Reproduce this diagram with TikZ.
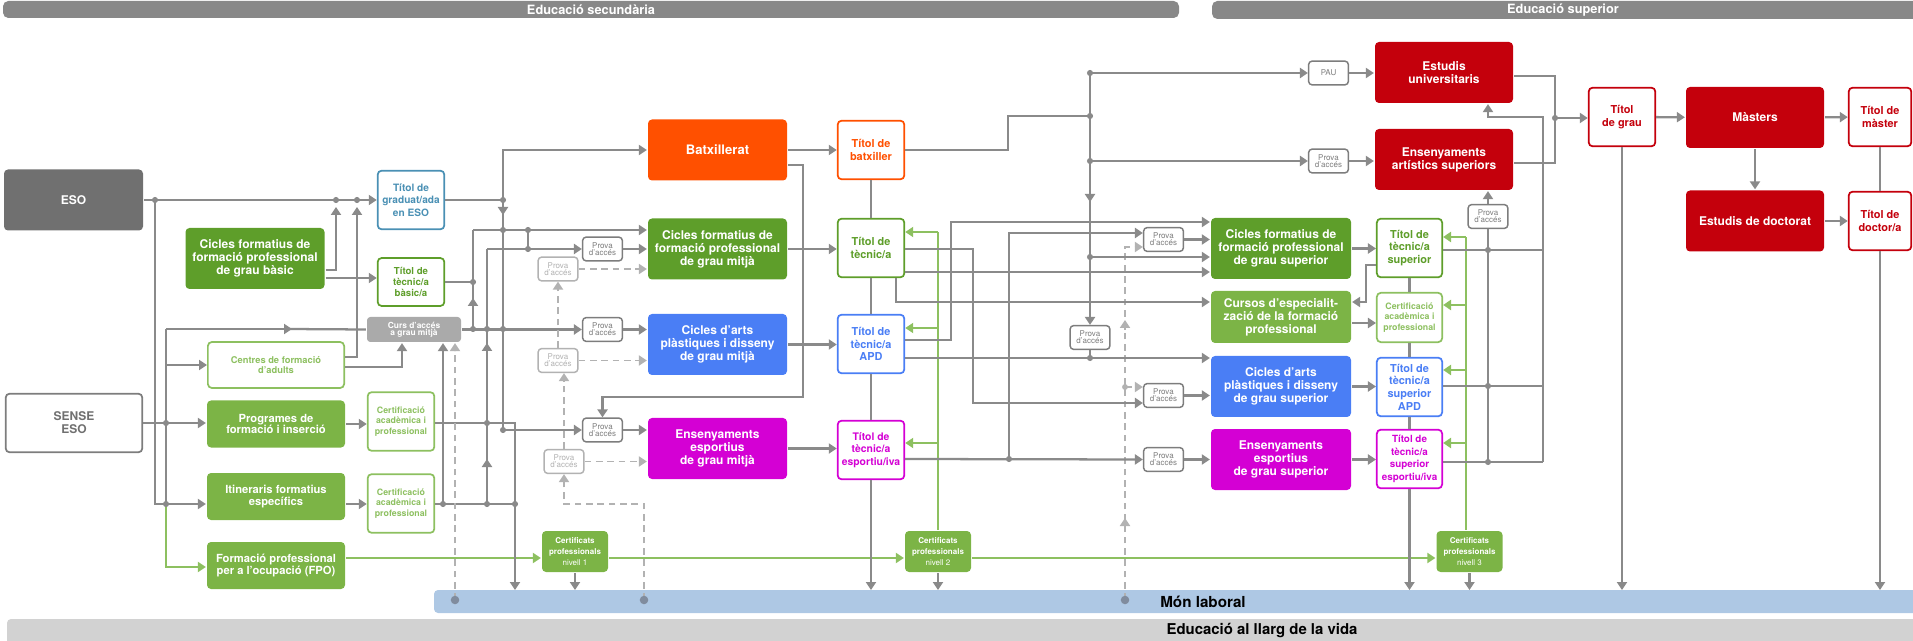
\documentclass[tikz,border=0pt]{standalone}
\usepackage{fontspec}
\setmainfont{TeX Gyre Heros}
\usetikzlibrary{arrows.meta}

\definecolor{linegray}{RGB}{138,138,138}
\definecolor{bargray}{RGB}{136,136,136}
\definecolor{esogray}{RGB}{112,112,112}
\definecolor{fpgreen}{RGB}{94,158,42}
\definecolor{ltgreen}{RGB}{124,180,70}
\definecolor{certgreen}{RGB}{141,192,96}
\definecolor{apdblue}{RGB}{74,126,245}
\definecolor{espmag}{RGB}{212,0,212}
\definecolor{batorange}{RGB}{255,80,0}
\definecolor{unired}{RGB}{196,0,12}
\definecolor{esoblue}{RGB}{74,144,180}
\definecolor{laboral}{RGB}{174,200,228}
\definecolor{vidagray}{RGB}{210,210,210}
\definecolor{cursgray}{RGB}{170,170,170}
\definecolor{provagray}{RGB}{125,125,125}
\definecolor{provalight}{RGB}{178,178,178}
\definecolor{dotgray}{RGB}{128,140,158}

\tikzset{every picture/.style={line width=1.7pt}}
\tikzset{
  >={Triangle[length=6pt,width=7.5pt]},
  flow/.style={draw=linegray,->},
  link/.style={draw=linegray},
  gflow/.style={draw=certgreen,->},
  glink/.style={draw=certgreen},
  dflow/.style={draw=provalight,line width=1.4pt,dash pattern=on 5pt off 3.5pt,->},
  bigbox/.style={rounded corners=3pt,minimum width=104.25pt,minimum height=45.75pt,inner sep=0pt,align=center,text=white,font=\bfseries\fontsize{9}{9.8}\selectfont},
  lowbox/.style={bigbox,minimum width=103.5pt,minimum height=35.25pt,font=\bfseries\fontsize{8.4}{8.4}\selectfont},
  titbox/.style={draw,fill=white,rounded corners=3pt,line width=1.3pt,minimum width=50pt,minimum height=44pt,inner sep=0pt,align=center,font=\bfseries\fontsize{8.2}{9.5}\selectfont},
  capbox/.style={titbox,draw=certgreen,text=certgreen,font=\bfseries\fontsize{6.6}{7.7}\selectfont},
  cursbox/.style={fill=cursgray,text=white,rounded corners=2.5pt,minimum width=70.5pt,minimum height=18.75pt,inner sep=0pt,align=center,font=\bfseries\fontsize{6.3}{5.6}\selectfont},
  provabox/.style={draw=provagray,text=provagray,fill=white,rounded corners=2.5pt,line width=1.1pt,minimum width=29.75pt,minimum height=17.75pt,inner sep=0pt,align=center,font=\fontsize{6}{5.2}\selectfont},
  provalt/.style={provabox,draw=provalight,text=provalight},
  certbox/.style={fill=ltgreen,text=white,rounded corners=3pt,minimum width=49.5pt,minimum height=30.75pt,inner sep=0pt,align=center,font=\bfseries\fontsize{6}{8}\selectfont},
  bartext/.style={inner sep=0pt,font=\bfseries\fontsize{9.6}{10}\selectfont}
}

\begin{document}
\begin{tikzpicture}[x=0.75pt,y=0.75pt,yscale=-1,xscale=1]
\useasboundingbox (0,0) rectangle (1913,641);

%Shapes: bands
\fill[bargray,rounded corners=4pt] (3,1) rectangle (1179,18);
\fill[bargray,rounded corners=4pt] (1212,1) rectangle (1930,19);
\fill[laboral,rounded corners=3pt] (434,590) rectangle (1930,613);
\fill[vidagray,rounded corners=3pt] (7,619) rectangle (1930,650);
\coordinate (lab1) at (455,600);
\coordinate (lab2) at (644,600);
\coordinate (lab3) at (1125,600);

% Text Node
\node[bartext,text=white] (sectxt) at (591,9.5) {Educació secundària};
\node[bartext,text=white] (suptxt) at (1563,10) {Educació superior};
\node[bartext,font=\bfseries\fontsize{11.4}{12}\selectfont] (labtxt) at (1203,602) {Món laboral};
\node[bartext,font=\bfseries\fontsize{11.2}{12}\selectfont] (vidatxt) at (1262,631) {Educació al llarg de la vida};

% Text Node: left column
\node[bigbox,fill=esogray] (eso) at (73.5,200) {ESO};
\node[bigbox,draw=provagray,line width=1.3pt,fill=white,text=esogray,minimum width=102.5pt,minimum height=44pt] (sense) at (74,423) {SENSE\\ESO};
\node[bigbox,fill=fpgreen] (fpb) at (255,258.5) {Cicles formatius de\\formació professional\\de grau bàsic};
\node[lowbox,draw=certgreen,line width=1.3pt,fill=white,text=certgreen,minimum width=102.2pt,minimum height=34.5pt,font=\bfseries\fontsize{7}{8}\selectfont] (adults) at (276,365) {Centres de formació\\d’adults};
\node[lowbox,fill=ltgreen] (prog) at (276,424) {Programes de\\formació i inserció};
\node[lowbox,fill=ltgreen] (itin) at (276,496.5) {Itineraris formatius\\específics};
\node[lowbox,fill=ltgreen] (fpo) at (276,565.5) {Formació professional\\per a l’ocupació (FPO)};

% Text Node: títols ESO
\node[titbox,draw=esoblue,text=esoblue,font=\bfseries\fontsize{7.6}{9.2}\selectfont] (graduat) at (411,200) {Títol de\\graduat/ada\\en ESO};
\node[titbox,draw=fpgreen,text=fpgreen,minimum height=36pt,font=\bfseries\fontsize{7.2}{8.2}\selectfont] (tecbas) at (411,282) {Títol de\\tècnic/a\\bàsic/a};
\node[cursbox] (curs) at (414,329.5) {Curs d’accés\\a grau mitjà};
\node[capbox] (cap1) at (401,421.5) {Certificació\\acadèmica i\\professional};
\node[capbox] (cap2) at (401,503.5) {Certificació\\acadèmica i\\professional};

% Text Node: grau mitjà
\node[bigbox,fill=batorange,font=\bfseries\fontsize{9.8}{10}\selectfont] (batx) at (717.5,150) {Batxillerat};
\node[bigbox,fill=fpgreen] (fpgm) at (717.5,249) {Cicles formatius de\\formació professional\\de grau mitjà};
\node[bigbox,fill=apdblue] (apgm) at (717.5,344.5) {Cicles d’arts\\plàstiques i disseny\\de grau mitjà};
\node[bigbox,fill=espmag] (eegm) at (717.5,448.5) {Ensenyaments\\esportius\\de grau mitjà};
\node[titbox,draw=batorange,text=batorange] (tbatx) at (871,150) {Títol de\\batxiller};
\node[titbox,draw=fpgreen,text=fpgreen] (ttec) at (871,248) {Títol de\\tècnic/a};
\node[titbox,draw=apdblue,text=apdblue] (tapd) at (871,344) {Títol de\\tècnic/a\\APD};
\node[titbox,draw=espmag,text=espmag,font=\bfseries\fontsize{7.8}{9.5}\selectfont] (tesp) at (871,450) {Títol de\\tècnic/a\\esportiu/iva};

% Text Node: proves
\node[provabox] (pfgm) at (602.5,249) {Prova\\d’accés};
\node[provalt] (pfgmd) at (558,269) {Prova\\d’accés};
\node[provabox] (pagm) at (602.5,329.5) {Prova\\d’accés};
\node[provalt] (pagmd) at (558,360.5) {Prova\\d’accés};
\node[provabox] (pegm) at (602.5,430) {Prova\\d’accés};
\node[provalt] (pegmd) at (564,461.5) {Prova\\d’accés};
\node[provabox] (pbatx) at (1090,337.5) {Prova\\d’accés};
\node[provabox] (pfgs) at (1163.5,239.5) {Prova\\d’accés};
\node[provabox] (pags) at (1163.5,395.5) {Prova\\d’accés};
\node[provabox] (pegs) at (1163.5,459.5) {Prova\\d’accés};
\node[provabox] (pau) at (1328.5,73) {PAU};
\node[provabox] (part) at (1328.5,161) {Prova\\d’accés};
\node[provabox] (pats) at (1488,216.5) {Prova\\d’accés};

% Text Node: certificats
\node[certbox] (cp1) at (575,551.5) {Certificats\\professionals\\\mdseries nivell 1};
\node[certbox] (cp2) at (938,551.5) {Certificats\\professionals\\\mdseries nivell 2};
\node[certbox] (cp3) at (1469.5,551.5) {Certificats\\professionals\\\mdseries nivell 3};

% Text Node: grau superior
\node[bigbox,fill=fpgreen,minimum width=105pt] (fpgs) at (1281,248.5) {Cicles formatius de\\formació professional\\de grau superior};
\node[bigbox,fill=ltgreen,minimum width=105pt,minimum height=39pt] (cesp) at (1281,317) {Cursos d’especialit-\\zació de la formació\\professional};
\node[bigbox,fill=apdblue,minimum width=105pt] (apgs) at (1281,386.5) {Cicles d’arts\\plàstiques i disseny\\de grau superior};
\node[bigbox,fill=espmag,minimum width=105pt] (eegs) at (1281,459.5) {Ensenyaments\\esportius\\de grau superior};
\node[titbox,draw=fpgreen,text=fpgreen,minimum width=49pt] (ttsup) at (1409.5,248) {Títol de\\tècnic/a\\superior};
\node[capbox,minimum width=49pt,minimum height=37pt] (ccap) at (1409.5,317.5) {Certificació\\acadèmica i\\professional};
\node[titbox,draw=apdblue,text=apdblue,minimum width=49pt] (tapds) at (1409.5,387) {Títol de\\tècnic/a\\superior\\APD};
\node[titbox,draw=espmag,text=espmag,minimum width=49pt,font=\bfseries\fontsize{7.4}{9.5}\selectfont] (tesps) at (1409.5,459) {Títol de\\tècnic/a\\superior\\esportiu/iva};

% Text Node: educació superior
\node[bigbox,fill=unired,minimum width=103.5pt] (univ) at (1444,72.5) {Estudis\\universitaris};
\node[bigbox,fill=unired,minimum width=103.5pt] (arts) at (1444,159.5) {Ensenyaments\\artístics superiors};
\node[titbox,draw=unired,text=unired] (tgrau) at (1622,117) {Títol\\de grau};
\node[bigbox,fill=unired,minimum width=103.5pt] (master) at (1755,117.5) {Màsters};
\node[titbox,draw=unired,text=unired,minimum width=47pt] (tmaster) at (1880,117) {Títol de\\màster};
\node[bigbox,fill=unired,minimum width=103.5pt] (doct) at (1755,221) {Estudis de doctorat};
\node[titbox,draw=unired,text=unired,minimum width=47pt] (tdoct) at (1880,221) {Títol de\\doctor/a};

%Straight Lines: ESO i sense ESO
\draw[flow] (eso.east) -- (graduat.west |- eso.east);
\draw[link] (155,200) -- (155,504) -- (166,504);
\draw[flow] (sense.east) -- (prog.west |- sense.east);
\draw[link] (166,329) -- (166,504);
\draw[flow] (166,329) -- (292,329);
\draw[link] (288,329) -- (curs.west);
\draw[flow] (166,365) -- (adults.west);
\draw[flow] (166,504) -- (itin.west |- 0,504);
\draw[gflow] (166,504) |- (fpo.west |- 0,567);
\draw[flow] (fpb.east |- 0,270) -| (336,207);
\draw[flow] (fpb.east |- 0,278) -- (tecbas.west |- 0,278);
\draw[flow] (adults.east |- 0,357) -| (357,207);
\draw[flow] (adults.east |- 0,367) -| (402,0 |- curs.south);
\draw[flow] (prog.east) -- (cap1.west |- prog.east);
\draw[flow] (itin.east |- 0,504) -- (cap2.west |- 0,504);
\draw[gflow] (fpo.east |- 0,558) -- (cp1.west |- 0,558);
\draw[gflow] (cp1.east |- 0,558) -- (cp2.west |- 0,558);
\draw[gflow] (cp2.east |- 0,558) -- (cp3.west |- 0,558);

%Straight Lines: cap a grau mitjà
\draw[flow] (graduat.east) -| (503,150) -- (batx.west);
\draw[flow] (503,200) -- (503,215);
\draw[link] (503,212) -- (503,430);
\draw[link] (tecbas.east) -- (473,282);
\draw[link] (473,230) -- (473,329);
\draw[flow] (473,329) -- (473,298);
\draw[flow] (473,230) -- (fpgm.west |- 0,230);
\draw[link] (528,230) -- (528,249);
\draw[link] (487,249) -- (487,504);
\draw[flow] (487,249) -- (pfgm.west);
\draw[flow] (pfgm) -- (fpgm.west |- pfgm);
\draw[flow] (487,362) -- (487,343);
\draw[flow] (487,478) -- (487,459);
\draw[flow] (curs.east) -- (pagm.west);
\draw[flow] (pagm) -- (apgm.west |- pagm);
\draw[flow] (cap1.east |- 0,423) -| (515,590);
\draw[link] (cap2.east |- 0,504) -- (515,504);
\draw[flow] (443,504) -- (443,0 |- curs.south);
\draw[flow] (503,430) -- (pegm.west);
\draw[flow] (pegm) -- (eegm.west |- pegm);
\draw[flow] (batx.east |- 0,165) -| (803,397) -| (pegm.north);

%Dashed Lines
\draw[dflow] (pfgmd) -- (fpgm.west |- pfgmd);
\draw[dflow] (pagmd) -- (apgm.west |- pagmd);
\draw[dflow] (pegmd) -- (eegm.west |- pegmd);
\draw[dflow] (pagmd.north) -- (pfgmd.south);
\draw[dflow] (pegmd.north) -- (pegmd.north |- pagmd.south);
\draw[dflow] (lab2) |- (564,504) -- (pegmd.south);
\draw[dflow] (lab1) -- (455,0 |- curs.south);
\draw[dflow] (lab3) |- (pfgs.west |- 0,247);
\draw[dflow] (1125,528) -- (1125,518);
\draw[dflow] (1125,330) -- (1125,320);
\draw[dflow] (1125,387) -- (pags.west |- 0,387);

%Straight Lines: títols de grau mitjà
\draw[flow] (batx.east) -- (tbatx.west |- batx.east);
\draw[flow] (fpgm.east) -- (ttec.west |- fpgm.east);
\draw[flow] (apgm.east) -- (tapd.west |- apgm.east);
\draw[flow] (eegm.east) -- (tesp.west |- eegm.east);
\draw[link] (tbatx) -- (ttec) -- (tapd) -- (tesp);
\draw[flow] (tesp.south) -- (tesp.south |- 0,590);
\draw[glink] (cp2.north) -- (cp2.north |- 0,232);
\draw[gflow] (cp2.north |- 0,232) -- (ttec.east |- 0,232);
\draw[gflow] (cp2.north |- 0,328) -- (tapd.east |- 0,328);
\draw[gflow] (cp2.north |- 0,443) -- (tesp.east |- 0,443);

%Straight Lines: cap a grau superior
\draw[link] (tbatx.east) -| (1008,116) -- (1090,116);
\draw[flow] (1090,73) -- (1090,202);
\draw[flow] (1090,195) -- (pbatx.north);
\draw[flow] (1090,73) -- (pau.west);
\draw[flow] (pau) -- (univ.west |- pau);
\draw[flow] (1090,161) -- (part.west);
\draw[flow] (part) -- (arts.west |- part);
\draw[flow] (1090,257) -- (fpgs.west |- 0,257);
\draw[link] (pbatx.south) -- (pbatx.south |- 0,358);
\draw[flow] (tapd.east |- 0,340) -| (951,222) -- (fpgs.west |- 0,222);
\draw[flow] (tesp.east |- 0,459) -- (pegs.west);
\draw[flow] (1009,459) |- (pfgs.west |- 0,233);
\draw[flow] (pfgs) -- (fpgs.west |- pfgs);
\draw[flow] (pegs) -- (eegs.west |- pegs);
\draw[flow] (ttec.east |- 0,249) -| (973,403) -- (pags.west |- 0,403);
\draw[flow] (pags) -- (apgs.west |- pags);
\draw[flow] (ttec.east |- 0,272) -- (fpgs.west |- 0,272);
\draw[flow] (896,0 |- ttec.south) |- (cesp.west |- 0,302);
\draw[flow] (tapd.east |- 0,358) -- (apgs.west |- 0,358);

%Straight Lines: títols de grau superior
\draw[flow] (fpgs.east) -- (ttsup.west |- fpgs.east);
\draw[flow] (cesp.east |- 0,323) -- (ccap.west |- 0,323);
\draw[flow] (apgs.east) -- (tapds.west |- apgs.east);
\draw[flow] (eegs.east) -- (tesps.west |- eegs.east);
\draw[flow] (ttsup.west |- 0,265) -| (1366,302) -- (cesp.east |- 0,302);
\draw[link] (ttsup) -- (ccap) -- (tapds) -- (tesps);
\draw[flow] (tesps.south) -- (tesps.south |- 0,590);
\draw[glink] (1466,0 |- cp3.north) -- (1466,237);
\draw[gflow] (1466,237) -- (ttsup.east |- 0,237);
\draw[gflow] (1466,305) -- (ccap.east |- 0,305);
\draw[gflow] (1466,370) -- (tapds.east |- 0,370);
\draw[gflow] (1466,443) -- (tesps.east |- 0,443);

%Straight Lines: educació superior
\draw[link] (ttsup.east |- 0,250) -- (1543,250);
\draw[link] (tapds.east |- 0,386) -- (1543,386);
\draw[link] (tesps.east |- 0,462) -- (1543,462);
\draw[link] (1488,462) -- (pats.south);
\draw[flow] (pats.north) -- (pats.north |- arts.south);
\draw[flow] (1543,462) |- (1488,117) -- (1488,0 |- univ.south);
\draw[link] (univ.east |- 0,76) -| (1555,163) -- (arts.east |- 0,163);
\draw[flow] (1555,118) -- (tgrau.west |- 0,118);
\draw[flow] (tgrau) -- (master);
\draw[flow] (master) -- (tmaster);
\draw[flow] (master) -- (doct);
\draw[flow] (doct) -- (tdoct);
\draw[link] (tmaster) -- (tdoct);
\draw[flow] (tgrau.south) -- (tgrau.south |- 0,590);
\draw[flow] (tdoct.south) -- (tdoct.south |- 0,590);
\draw[flow] (cp1.south) -- (cp1.south |- 0,590);
\draw[flow] (cp2.south) -- (cp2.south |- 0,590);
\draw[flow] (cp3.south) -- (cp3.south |- 0,590);

%Shapes: junctions
\foreach \p in {(155,200),(336,200),(357,200),(166,423),(166,504),(503,200),(503,230),(528,230),(528,249),(473,282),(473,329),(487,329),(503,329),(487,423),(503,430),(443,504),(487,504),(515,504),(1090,73),(1090,116),(1090,161),(1090,257),(1090,358),(1009,459),(1488,250),(1488,386),(1488,462),(1555,118)}
  \fill[linegray] \p circle (2.3pt);
\fill[provalight] (1125,387) circle (2.2pt);
\foreach \p in {lab1,lab2,lab3}
  \fill[dotgray] (\p) circle (3.2pt);

\end{tikzpicture}
\end{document}
